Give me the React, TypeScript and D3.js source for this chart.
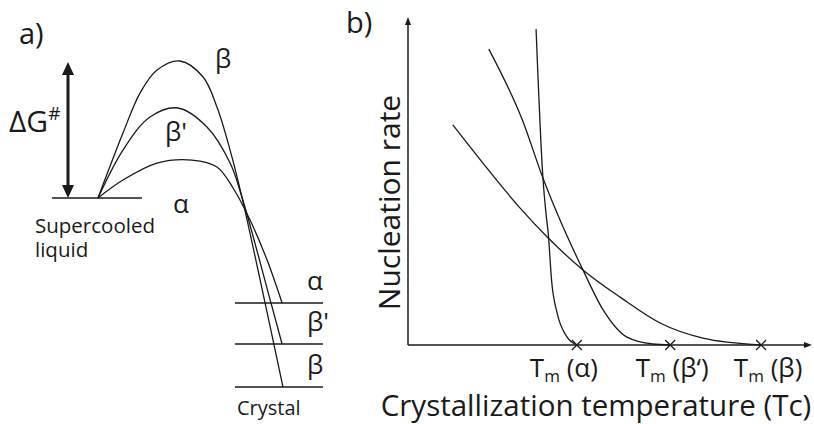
import React from "react";
import * as d3 from "d3";

// a) free energy along the reaction path (arbitrary units, liquid = 0)
const pathBeta = [[0, 0], [13.5, 47.4], [22.7, 76.6], [31.9, 93.4], [44.3, 100], [56.8, 88.3], [64.3, 66.4], [71.4, 35], [77.8, 0.7], [90.3, -76.6], [100, -138]];
const pathBetaPrime = [[0, 0], [13.5, 35], [28.1, 59.1], [43.2, 65.7], [58.9, 51.8], [71.4, 25.5], [77.8, 0.7], [93.5, -76.6], [99.5, -106.6]];
const pathAlpha = [[0, 0], [13.5, 13.1], [31.9, 25.5], [50.8, 27.7], [64.3, 22.6], [73, 7.3], [82.2, -16.1], [91.4, -45.3], [99.5, -76.6]];
const crystalLevels = [-76.6, -106.6, -138];
const crystalLabels = ["α", "β'", "β"];
const liquidLevel = 0;

// b) nucleation rate vs crystallization temperature (arbitrary units)
const rateAlpha = [[31.7, 96.3], [33.4, 50.9], [34.2, 39.6], [34.7, 34.1], [35.6, 18.9], [36.9, 9.8], [39.4, 2.4], [41.8, 0]];
const rateBetaPrime = [[20, 90.2], [28.5, 68], [33.4, 50.9], [37.1, 39.6], [43.3, 22.9], [48.3, 10.7], [54.2, 2.4], [60.6, 0.3], [64.9, 0]];
const rateBeta = [[11.1, 67.1], [19.1, 54.6], [27.7, 41.8], [34.7, 32.6], [43.3, 22.9], [52.5, 14.6], [62.4, 6.7], [73, 2.1], [87.4, 0]];
const meltTemps = [41.8, 64.9, 87.4];
const meltLabels = ["α", "β‘", "β"];

const font = "'Open Sans', sans-serif";
const ink = "#1a1a1a";

const App = () => {
  // scales for panel a
  const xA = d3.scaleLinear().domain([0, 100]).range([98, 283]);
  const yA = d3.scaleLinear().domain([0, 100]).range([198, 61]);
  const lineA = d3
    .line()
    .x((d) => xA(d[0]))
    .y((d) => yA(d[1]))
    .curve(d3.curveCatmullRom.alpha(0.5));

  // scales for panel b
  const xB = d3.scaleLinear().domain([0, 100]).range([408, 812]);
  const yB = d3.scaleLinear().domain([0, 100]).range([345, 17]);
  const lineB = d3
    .line()
    .x((d) => xB(d[0]))
    .y((d) => yB(d[1]))
    .curve(d3.curveMonotoneX);

  const arrowX = 68;
  const labelDx = [-13, 2, 7];

  return (
    <svg
      width={814}
      height={424}
      style={{ position: "absolute", left: 0, top: 0, background: "#fff" }}
      fontFamily={font}
      fill={ink}
    >
      {/* ---------- panel a ---------- */}
      <text x={19} y={44} fontSize={29}>a)</text>

      {/* barrier arrow */}
      <line x1={arrowX} x2={arrowX} y1={72} y2={188} stroke={ink} strokeWidth={3} />
      <path d={`M${arrowX},${yA(100) + 1}L${arrowX - 6},${yA(100) + 14}L${arrowX + 6},${yA(100) + 14}Z`} />
      <path d={`M${arrowX},${yA(liquidLevel)}L${arrowX - 6},${yA(liquidLevel) - 13}L${arrowX + 6},${yA(liquidLevel) - 13}Z`} />
      <text x={9} y={132} fontSize={30}>
        ΔG<tspan fontSize={19} dy={-12}>#</tspan>
      </text>

      {/* supercooled liquid level */}
      <line x1={xA(-24.9)} x2={xA(23.8)} y1={yA(liquidLevel)} y2={yA(liquidLevel)} stroke={ink} strokeWidth={1.5} />
      <text x={35} y={233} fontSize={20.5}>Supercooled</text>
      <text x={35} y={257} fontSize={20.5}>liquid</text>

      {/* crystal levels */}
      {crystalLevels.map((e, i) => (
        <g key={i}>
          <line x1={xA(74)} x2={xA(121.6)} y1={yA(e)} y2={yA(e)} stroke={ink} strokeWidth={1.5} />
          <text x={307} y={yA(e) - 13} fontSize={26}>{crystalLabels[i]}</text>
        </g>
      ))}
      <text x={237} y={415} fontSize={20}>Crystal</text>

      {/* energy curves */}
      {[pathBeta, pathBetaPrime, pathAlpha].map((p, i) => (
        <path key={i} d={lineA(p)} fill="none" stroke={ink} strokeWidth={1.3} />
      ))}
      <text x={215} y={68} fontSize={26}>β</text>
      <text x={165} y={141} fontSize={26}>β'</text>
      <text x={173} y={213} fontSize={26}>α</text>

      {/* ---------- panel b ---------- */}
      <text x={346} y={33} fontSize={29}>b)</text>

      {/* axes */}
      <line x1={xB(0)} x2={xB(0)} y1={yB(0)} y2={yB(100) + 4} stroke={ink} strokeWidth={1.5} />
      <path d={`M${xB(0)},${yB(100)}L${xB(0) - 3},${yB(100) + 8}L${xB(0) + 3},${yB(100) + 8}Z`} />
      <line x1={xB(0)} x2={xB(100) - 4} y1={yB(0)} y2={yB(0)} stroke={ink} strokeWidth={1.5} />
      <path d={`M${xB(100)},${yB(0)}L${xB(100) - 8},${yB(0) - 3}L${xB(100) - 8},${yB(0) + 3}Z`} />

      {/* rate curves */}
      {[rateAlpha, rateBetaPrime, rateBeta].map((p, i) => (
        <path key={i} d={lineB(p)} fill="none" stroke={ink} strokeWidth={1.3} />
      ))}

      {/* melting points */}
      {meltTemps.map((t, i) => (
        <g key={i}>
          <path
            d={`M${xB(t) - 5},${yB(0) - 5}L${xB(t) + 5},${yB(0) + 5}M${xB(t) - 5},${yB(0) + 5}L${xB(t) + 5},${yB(0) - 5}`}
            stroke={ink}
            strokeWidth={1.3}
          />
          <text x={xB(t) + labelDx[i]} y={377} fontSize={26} textAnchor="middle">
            T<tspan fontSize={17} dy={5}>m</tspan>
            <tspan dy={-5}> ({meltLabels[i]})</tspan>
          </text>
        </g>
      ))}

      <text x={596} y={416} fontSize={29.5} textAnchor="middle">
        Crystallization temperature (Tc)
      </text>
      <text
        transform={`translate(400, ${(97 + 308) / 2}) rotate(-90)`}
        fontSize={30}
        textAnchor="middle"
      >
        Nucleation rate
      </text>
    </svg>
  );
};

export default App;
